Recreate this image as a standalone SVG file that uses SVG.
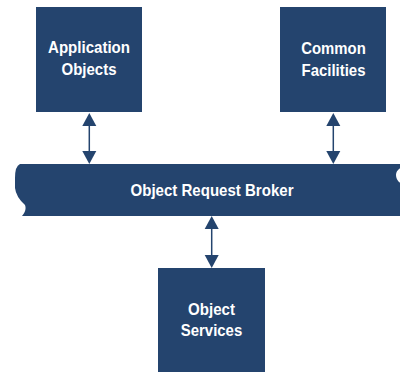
<svg xmlns="http://www.w3.org/2000/svg" width="400" height="373" viewBox="0 0 400 373">
<style>
.box{fill:#24446E}
.lbl{font-family:"Liberation Sans",Arial,sans-serif;font-weight:bold;font-size:16.5px;fill:#ffffff;text-anchor:middle}
.conn{stroke:#24446E;stroke-width:1.5;fill:none}
.head{fill:#24446E}
</style>
<rect width="400" height="373" fill="#ffffff"/>
<g id="orb">
<path class="box" d="M20 164 L402 164 L402 167 Q396 170 396 175 Q396 181 402 184 L402 216 L22 216 Q27 210 25 205 Q16 197 15 188 L15 178 Q15 166 20 164 Z"/>
<text class="lbl" x="212" y="196" textLength="163" lengthAdjust="spacingAndGlyphs">Object Request Broker</text>
</g>
<g id="app">
<rect class="box" x="36" y="7" width="106" height="105"/>
<text class="lbl" x="89" y="53" textLength="82" lengthAdjust="spacingAndGlyphs">Application</text>
<text class="lbl" x="89" y="75" textLength="55" lengthAdjust="spacingAndGlyphs">Objects</text>
</g>
<g id="common">
<rect class="box" x="280" y="7" width="106" height="105"/>
<text class="lbl" x="333.5" y="53.5" textLength="64.5" lengthAdjust="spacingAndGlyphs">Common</text>
<text class="lbl" x="333.5" y="75.5" textLength="64" lengthAdjust="spacingAndGlyphs">Facilities</text>
</g>
<g id="services">
<rect class="box" x="158" y="268" width="107" height="104"/>
<text class="lbl" x="211.5" y="314.5" textLength="47" lengthAdjust="spacingAndGlyphs">Object</text>
<text class="lbl" x="211.5" y="336" textLength="61.5" lengthAdjust="spacingAndGlyphs">Services</text>
</g>
<g id="connectors">
<line class="conn" x1="89.3" y1="124" x2="89.3" y2="153"/>
<polygon class="head" points="89.3,113 82.3,126 96.3,126"/>
<polygon class="head" points="89.3,164 82.3,151 96.3,151"/>
<line class="conn" x1="333.3" y1="124" x2="333.3" y2="153"/>
<polygon class="head" points="333.3,113 326.3,126 340.3,126"/>
<polygon class="head" points="333.3,164 326.3,151 340.3,151"/>
<line class="conn" x1="211.7" y1="227" x2="211.7" y2="257"/>
<polygon class="head" points="211.7,216 204.7,229 218.7,229"/>
<polygon class="head" points="211.7,268 204.7,255 218.7,255"/>
</g>
</svg>
